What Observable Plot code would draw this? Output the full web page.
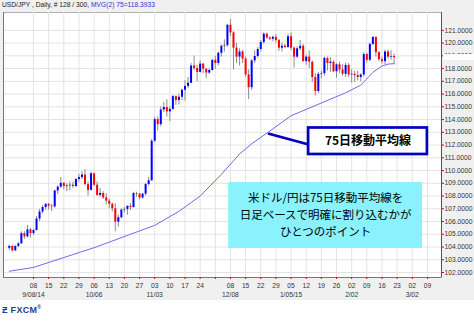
<!DOCTYPE html>
<html><head><meta charset="utf-8">
<script src="https://cdn.jsdelivr.net/npm/d3@7"></script>
<script src="https://cdn.jsdelivr.net/npm/@observablehq/plot@0.6"></script>
<style>
html,body{margin:0;padding:0;background:#fff;}
#wrap{position:relative;width:474px;height:321px;overflow:hidden;font-family:"Liberation Sans",Arial,sans-serif;}
#chart svg{display:block;}
#title{position:absolute;left:2px;top:1px;font-size:6.7px;line-height:8px;color:#222;white-space:pre;}
#title .mvg{color:#3333cc;}
#mask{position:absolute;left:443px;top:54px;width:31px;height:6px;background:#fff;}
#logo{position:absolute;left:2px;top:304px;font-size:9px;font-weight:bold;color:#1c3f94;white-space:pre;letter-spacing:0.3px;}
#logo sup{font-size:5px;}
</style></head>
<body>
<div id="wrap">
  <div id="chart"></div>
  <div id="title"></div>
  <div id="mask"></div>
  <div id="logo"></div>
</div>
<script>
// ---- data (USD/JPY daily, 27 Aug 2014 - 20 Feb 2015, 128 candles) ----
const titleText = "USD/JPY , Daily, # 128 / 300, ";
const mvgText = "MVG(2) 75=118.3933";
const firstIndex = -8; // trading-day index of first candle, relative to Mon 8 Sep 2014

const open = [
103.90,104.05,103.70,104.05,104.25,105.05,104.80,105.35,
105.05,105.30,106.20,106.75,107.10,107.35,107.20,107.15,108.40,108.70,
109.00,108.75,108.80,108.85,108.75,109.30,109.45,109.65,108.90,108.45,
109.75,108.85,108.05,108.20,107.85,107.60,107.35,107.00,105.95,106.30,
106.90,106.95,107.20,107.10,108.20,108.15,107.85,108.15,108.90,109.20,
112.30,114.00,113.60,114.75,114.95,114.60,114.80,115.80,115.50,115.75,
116.30,116.60,116.85,118.20,118.00,117.70,118.35,117.95,117.65,117.85,
118.65,118.40,119.20,119.75,119.80,121.40,120.80,119.60,118.90,119.30,
118.75,117.50,116.50,118.60,118.95,119.50,120.05,120.70,120.40,120.30,
120.45,120.20,119.60,119.75,119.65,120.50,119.60,118.90,119.55,119.75,
118.55,118.90,118.50,117.30,116.20,117.55,117.60,118.80,118.40,118.50,
117.75,118.30,117.90,117.55,118.25,117.50,117.55,117.45,117.30,117.50,
119.10,118.65,119.90,120.45,119.25,118.70,118.55,119.30,118.90,118.95];
const high = [
104.15,104.10,104.10,104.35,105.20,105.20,105.70,105.45,
105.40,106.40,106.95,107.25,107.40,107.40,107.35,108.45,108.80,109.45,
109.05,108.95,109.10,109.10,109.35,109.70,109.90,110.09,109.10,109.85,
109.80,109.10,108.60,108.35,108.20,107.75,107.45,107.40,106.50,107.00,
107.10,107.20,107.40,108.30,108.30,108.20,108.20,109.00,109.45,112.45,
114.20,114.20,115.00,115.35,115.55,115.00,115.90,115.85,116.00,116.40,
117.05,117.30,118.40,118.98,118.25,118.60,118.40,118.00,118.00,118.70,
118.95,119.30,119.85,120.25,121.45,121.86,120.90,120.00,119.55,119.45,
118.90,117.90,118.70,119.40,119.65,120.20,120.80,120.80,120.50,120.55,
120.65,120.30,120.00,119.90,120.70,120.80,119.70,119.70,120.20,119.90,
119.05,119.40,118.60,117.60,117.70,117.80,118.90,118.90,118.85,118.60,
118.40,118.50,118.30,118.45,118.40,117.90,117.80,117.80,117.60,119.25,
119.20,120.00,120.50,120.48,119.35,118.90,119.45,119.45,119.40,119.15];
const low = [
103.75,103.60,103.65,103.95,104.20,104.60,104.70,104.70,
104.90,105.25,106.00,106.60,106.90,106.90,106.80,107.05,108.10,108.60,
108.50,108.35,108.40,108.60,108.65,109.10,109.30,108.80,108.00,108.40,
108.75,107.95,107.90,107.75,107.30,107.00,106.75,105.20,105.55,106.20,
106.65,106.50,106.85,107.05,107.90,107.70,107.75,108.00,108.80,109.15,
112.20,113.10,113.45,114.55,114.20,113.85,114.75,115.10,115.15,115.50,
115.45,116.45,116.80,117.85,116.95,117.65,117.60,117.20,117.55,117.80,
117.95,118.20,118.90,119.30,119.70,120.50,117.90,118.40,118.20,118.40,
117.30,115.57,116.30,118.40,118.80,119.30,119.90,120.30,120.20,120.10,
120.00,119.35,119.30,119.55,119.60,119.40,118.05,118.80,119.40,118.50,
118.25,118.00,116.90,115.85,116.05,117.20,117.40,117.80,117.70,117.70,
117.25,117.60,117.40,117.30,117.30,116.85,116.90,117.05,116.95,117.35,
118.45,118.55,119.80,118.90,118.55,118.35,118.30,118.75,118.65,118.30];
const close = [
104.05,103.70,104.05,104.25,105.05,104.80,105.35,105.05,
105.30,106.20,106.75,107.10,107.35,107.20,107.15,108.40,108.70,109.00,
108.75,108.80,108.85,108.75,109.30,109.45,109.65,108.90,108.45,109.75,
108.85,108.05,108.20,107.85,107.60,107.35,107.00,105.95,106.30,106.90,
106.95,107.20,107.10,108.20,108.15,107.85,108.15,108.90,109.20,112.30,
114.00,113.60,114.75,114.95,114.60,114.80,115.80,115.50,115.75,116.30,
116.60,116.85,118.20,118.00,117.70,118.35,117.95,117.65,117.85,118.65,
118.40,119.20,119.75,119.80,121.40,120.80,119.60,118.90,119.30,118.75,
117.50,116.50,118.60,118.95,119.50,120.05,120.70,120.40,120.30,120.45,
120.20,119.60,119.75,119.65,120.50,119.60,118.90,119.55,119.75,118.55,
118.90,118.50,117.30,116.20,117.55,117.60,118.80,118.40,118.50,117.75,
118.30,117.90,117.55,118.25,117.50,117.55,117.45,117.30,117.50,119.10,
118.65,119.90,120.45,119.25,118.70,118.55,119.30,118.90,118.95,118.85];

// 75-day moving average at selected candles
const maIndex = [-8, 0, 20, 40, 48, 55, 62, 68, 72, 78, 85, 95, 103, 108, 112, 115, 117, 119];
const maValue = [102.10, 102.40, 103.95, 105.70, 106.80, 108.00, 109.70, 111.30, 112.10, 113.10, 114.30, 115.30, 116.10, 116.70, 117.70, 118.20, 118.35, 118.39];

// axis ticks
const weekTicks = d3.range(0, 131, 5); // Mondays, 8 Sep 2014 .. 9 Mar 2015
const dayLabels = ["08","15","22","29","06","13","20","27","03","10","17","24","","08","15","22","29","05","12","19","26","02","09","16","23","02","09"];
const monthTicks = [0, 20, 40, 65, 85, 105, 125];
const monthLabels = ["9/08/14","10/06","11/03","12/08","1/05/15","2/02","3/02"];
const priceTicks = d3.range(102, 122);

// annotations
const calloutText = "75日移動平均線";
const noteLines = ["米ドル/円は75日移動平均線を","日足ベースで明確に割り込むかが","ひとつのポイント"];

// ---- build ----
const candles = open.map((o, i) => ({k: firstIndex + i, o, h: high[i], l: low[i], c: close[i]}));
const ma = maIndex.map((k, i) => ({k, v: maValue[i]}));
const xDomain = [-9.9, 134.65];
const yDomain = [101.61, 122.40];

const calloutBox = [{x1: 90.8, x2: 130.0, y1: 111.26, y2: 113.34}];
const connector = [{k: 77.7, v: 112.88}, {k: 90.8, v: 112.04}];
const calloutLabel = [{k: 110.4, v: 112.30, t: calloutText}];
const noteBox = [{x1: 64.4, x2: 128.4, y1: 103.89, y2: 109.06}];
const noteText = noteLines.map((t, i) => ({k: 96.4, v: 107.81 - i * 1.335, t}));

const chart = Plot.plot({
  width: 474, height: 300,
  marginLeft: 3, marginRight: 33, marginTop: 12, marginBottom: 23,
  style: {background: "#f0f0f0", fontFamily: "Liberation Sans, Arial, sans-serif", fontSize: "6.7px", color: "#333"},
  x: {type: "linear", domain: xDomain},
  y: {domain: yDomain},
  color: {type: "identity"},
  marks: [
    Plot.frame({fill: "white", stroke: "#b0b0b0"}),
    Plot.gridX({ticks: weekTicks, stroke: "#e3e3e3", strokeOpacity: 1}),
    Plot.gridY({ticks: priceTicks, stroke: "#e3e3e3", strokeOpacity: 1}),
    Plot.ruleX([xDomain[0]], {stroke: "#777"}),
    Plot.ruleY([yDomain[0]], {stroke: "#777"}),
    Plot.ruleX([xDomain[1]], {stroke: "#555"}),
    Plot.axisY({anchor: "right", ticks: priceTicks, tickFormat: d => d.toFixed(4), tickSize: 2, tickPadding: 1, stroke: "#e00000", fill: "#333", label: null}),
    Plot.axisX({ticks: weekTicks, tickFormat: d => dayLabels[weekTicks.indexOf(d)], tickSize: 2, tickPadding: 4, stroke: "#e00000", fill: "#333", label: null}),
    Plot.axisX({ticks: monthTicks, tickFormat: d => monthLabels[monthTicks.indexOf(d)], tickSize: 0, tickPadding: 15, fill: "#333", label: null}),
    Plot.ruleX(candles, {x: "k", y1: "l", y2: "h", stroke: "#8c8c8c", strokeWidth: 1}),
    Plot.ruleX(candles, {x: "k", y1: "o", y2: "c", stroke: d => d.c >= d.o ? "#0000ff" : "#ff0000", strokeWidth: 2}),
    Plot.line(ma, {x: "k", y: "v", stroke: "#6b6bf0", strokeWidth: 1}),
    Plot.line(connector, {x: "k", y: "v", stroke: "#0000c0", strokeWidth: 2.6}),
    Plot.rect(calloutBox, {x1: "x1", x2: "x2", y1: "y1", y2: "y2", fill: "white", stroke: "#0000c0", strokeWidth: 2.7}),
    Plot.text(calloutLabel, {x: "k", y: "v", text: "t", fontSize: 12, fontWeight: "bold", fill: "#000", fontFamily: "Noto Sans CJK JP"}),
    Plot.rect(noteBox, {x1: "x1", x2: "x2", y1: "y1", y2: "y2", fill: "#8af2fc"}),
    Plot.text(noteText, {x: "k", y: "v", text: "t", fontSize: 11.5, fill: "#000", fontFamily: "Noto Sans CJK JP"})
  ]
});
document.getElementById("chart").appendChild(chart);

const title = document.getElementById("title");
title.textContent = titleText;
const mv = document.createElement("span");
mv.className = "mvg";
mv.textContent = mvgText;
title.appendChild(mv);

document.getElementById("logo").innerHTML = "Ƶ FXCM<sup>®</sup>";
</script>
</body></html>
